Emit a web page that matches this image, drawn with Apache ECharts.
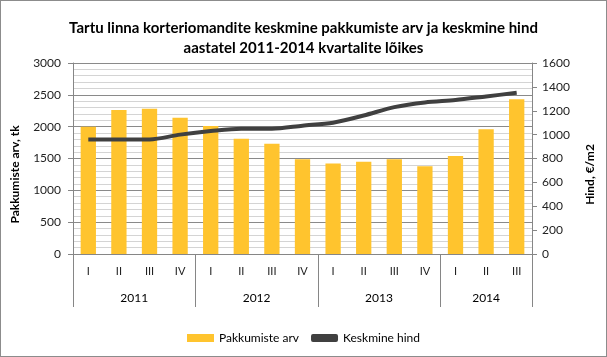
<!DOCTYPE html>
<html><head><meta charset="utf-8">
<script src="https://cdn.jsdelivr.net/npm/echarts@6/dist/echarts.min.js"></script>
<style>html,body{margin:0;padding:0;background:#fff}#c{width:607px;height:357px;box-sizing:border-box;border:1px solid #8c8c8c}</style>
</head><body><div id="c"></div>
<script>
var quarters = ['I','II','III','IV','I','II','III','IV','I','II','III','IV','I','II','III'];
var years = ['2011','2012','2013','2014'];
var yearSpans = [4,4,4,3];
var offers = [2000,2260,2280,2140,2010,1810,1730,1490,1420,1450,1490,1380,1540,1960,2430];
var price = [960,960,960,1000,1030,1050,1050,1075,1100,1160,1230,1270,1290,1320,1350];
var leftTicks = [0,3000,500];
var rightTicks = [0,1600,200];

var bounds = [0], centers = [];
yearSpans.forEach(function(s){ var b = bounds[bounds.length-1]; centers.push(b + s/2); bounds.push(b + s); });

var FONT = 'Lato';
var plain = function(v){ return String(v); };
var chart = echarts.init(document.getElementById('c'), null, {renderer:'canvas'});
chart.setOption({
  animation:false,
  textStyle:{fontFamily:FONT},
  title:{
    text:'Tartu linna korteriomandite keskmine pakkumiste arv ja keskmine hind\naastatel 2011-2014 kvartalite lõikes',
    left:'center', top:12,
    textStyle:{fontSize:15, fontWeight:'bold', color:'#000', lineHeight:20, fontFamily:FONT}
  },
  legend:{
    bottom:7, left:'center', itemGap:12,
    textStyle:{fontSize:12, color:'#000', fontFamily:FONT},
    data:[
      {name:'Pakkumiste arv', icon:'rect'},
      {name:'Keskmine hind', icon:'roundRect'}
    ],
    itemWidth:27, itemHeight:8
  },
  grid:{left:70, right:74, top:62, bottom:102, containLabel:false},
  xAxis:[
    {type:'category', data:quarters, position:'bottom',
     axisLine:{show:true, lineStyle:{color:'#868686'}},
     axisTick:{show:false},
     axisLabel:{margin:12, fontSize:11, color:'#222', fontFamily:FONT}
    },
    {type:'value', min:0, max:quarters.length, position:'bottom',
     axisLine:{show:false},
     splitLine:{show:false},
     axisTick:{show:true, customValues:bounds, length:53, lineStyle:{color:'#868686'}},
     axisLabel:{customValues:centers, margin:38, fontSize:12, color:'#000', fontFamily:FONT,
       formatter:function(v){ var i = centers.indexOf(v); return i>=0 ? years[i] : ''; }}
    }
  ],
  yAxis:[
    {type:'value', min:leftTicks[0], max:leftTicks[1], interval:leftTicks[2], position:'left',
     name:'Pakkumiste arv, tk', nameLocation:'middle', nameGap:52, nameRotate:90,
     nameTextStyle:{fontSize:12, fontWeight:'bold', color:'#000', padding:[0,32,0,0], fontFamily:FONT},
     axisLine:{show:true, lineStyle:{color:'#868686'}},
     axisTick:{show:true, inside:false, length:5, lineStyle:{color:'#868686'}},
     axisLabel:{margin:12, fontSize:12, color:'#222', fontFamily:FONT, formatter:plain},
     splitLine:{show:true, lineStyle:{color:'#8a8a8a', width:1}},
     minorTick:{show:false, splitNumber:5},
     minorSplitLine:{show:true, lineStyle:{color:'#d4d4d4', width:1}}
    },
    {type:'value', min:rightTicks[0], max:rightTicks[1], interval:rightTicks[2], position:'right',
     name:'Hind, €/m2', nameLocation:'middle', nameGap:52, nameRotate:90,
     nameTextStyle:{fontSize:12, fontWeight:'bold', color:'#000', padding:[0,32,0,0], fontFamily:FONT},
     axisLine:{show:true, lineStyle:{color:'#868686'}},
     axisTick:{show:true, inside:false, length:5, lineStyle:{color:'#868686'}},
     axisLabel:{margin:10, fontSize:12, color:'#222', fontFamily:FONT, formatter:plain},
     splitLine:{show:false}
    }
  ],
  series:[
    {name:'Pakkumiste arv', type:'bar', xAxisIndex:0, yAxisIndex:0, data:offers, barWidth:'50%',
     itemStyle:{color:'#FFC42E'}},
    {name:'Keskmine hind', type:'line', xAxisIndex:0, yAxisIndex:1, data:price, smooth:0.3,
     symbol:'none', lineStyle:{color:'#404040', width:4}, itemStyle:{color:'#404040'}}
  ]
});
</script></body></html>
